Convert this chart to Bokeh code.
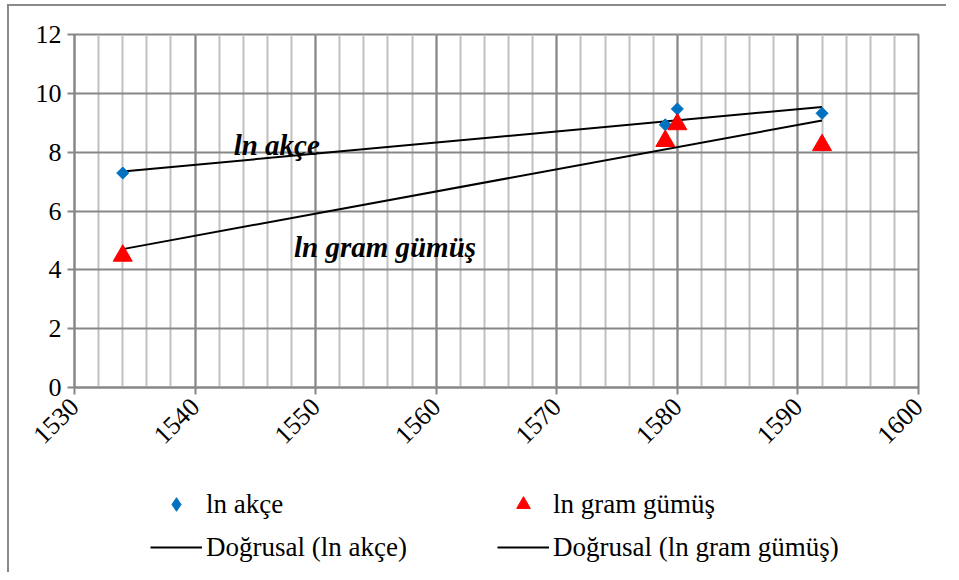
import numpy as np
from bokeh.plotting import figure
from bokeh.layouts import column
from bokeh.models import (Legend, LegendItem, Label, SingleIntervalTicker,
                          FixedTicker, ColumnDataSource, Range1d)
from bokeh.embed import file_html
from bokeh.resources import INLINE

# ---- data ----
years = [1534, 1579, 1580, 1592]
ln_akce = [7.29, 8.93, 9.47, 9.32]
ln_gram = [4.48, 8.38, 8.95, 8.24]
series_names = ["ln akçe", "ln gram gümüş"]
trend_names = ["Doğrusal (ln akçe)", "Doğrusal (ln gram gümüş)"]
annot_texts = ["ln akçe", "ln gram gümüş"]
x_ticks = [1530, 1540, 1550, 1560, 1570, 1580, 1590, 1600]
y_ticks = [0, 2, 4, 6, 8, 10, 12]

FONT = "Liberation Serif"
GRID_MAJOR = "#878787"
GRID_MINOR = "#c0c0c0"
BLUE = "#0070C0"
RED = "#FF0000"

p = figure(frame_width=844, frame_height=353, output_backend="svg",
           toolbar_location=None,
           x_range=Range1d(1530, 1600), y_range=Range1d(0, 12),
           min_border_left=65, min_border_right=28, min_border_top=28,
           min_border_bottom=90)
p.background_fill_color = "white"
p.border_fill_color = "white"
p.outline_line_color = GRID_MAJOR
p.outline_line_width = 2

# axes
p.xaxis.ticker = SingleIntervalTicker(interval=10, num_minor_ticks=5)
p.yaxis.ticker = FixedTicker(ticks=y_ticks)
p.axis.axis_line_color = GRID_MAJOR
p.axis.axis_line_width = 2
p.axis.major_tick_line_color = GRID_MAJOR
p.axis.major_tick_line_width = 2
p.axis.major_tick_out = 7
p.axis.major_tick_in = 0
p.axis.minor_tick_line_color = None
p.axis.major_label_text_font = FONT
p.axis.major_label_text_font_size = "26px"
p.axis.major_label_text_color = "black"
p.xaxis.major_label_orientation = np.pi / 4
p.xaxis.major_label_standoff = 8
p.yaxis.major_label_standoff = 6

# grids
p.xgrid.grid_line_color = GRID_MAJOR
p.xgrid.grid_line_width = 2
p.xgrid.minor_grid_line_color = GRID_MINOR
p.xgrid.minor_grid_line_width = 2
p.ygrid.grid_line_color = GRID_MAJOR
p.ygrid.grid_line_width = 2
p.ygrid.ticker = FixedTicker(ticks=y_ticks)

# trend lines (least-squares fit of each series)
xs = np.array(years, dtype=float)
x_end = [xs.min(), xs.max()]
for ys in (ln_akce, ln_gram):
    k, b = np.polyfit(xs, np.array(ys), 1)
    src = ColumnDataSource(dict(x=x_end, y=[k * x_end[0] + b, k * x_end[1] + b]))
    p.line("x", "y", source=src, line_color="black", line_width=2)

src = ColumnDataSource(dict(x=years, a=ln_akce, g=ln_gram))
p.scatter("x", "a", source=src, marker="square", angle=np.pi / 4, size=8.5,
          fill_color=BLUE, line_color=BLUE)
p.scatter("x", "g", source=src, marker="triangle", size=19,
          fill_color=RED, line_color=RED)

# in-plot annotations
p.add_layout(Label(x=1543.2, y=8.23, text=annot_texts[0], text_font=FONT,
                   text_font_style="bold italic", text_font_size="29px",
                   text_color="black", text_baseline="alphabetic"))
p.add_layout(Label(x=1548.2, y=4.76, text=annot_texts[1], text_font=FONT,
                   text_font_style="bold italic", text_font_size="29px",
                   text_color="black", text_baseline="alphabetic"))

# ---- legend strip (below the chart) ----
lg = figure(width=937, height=95, output_backend="svg", toolbar_location=None,
            x_axis_type=None, y_axis_type=None,
            x_range=Range1d(0, 1), y_range=Range1d(0, 1),
            min_border_left=0, min_border_right=0, min_border_top=0,
            min_border_bottom=0)
lg.outline_line_color = None
lg.background_fill_color = "white"
lg.border_fill_color = "white"
lg.grid.visible = False
empty = ColumnDataSource(dict(x=[np.nan], y=[np.nan]))
leg_akce = lg.scatter("x", "y", source=empty, marker="diamond", size=12,
                      fill_color=BLUE, line_color=BLUE)
leg_gram = lg.scatter("x", "y", source=empty, marker="triangle", size=12,
                      fill_color=RED, line_color=RED)
leg_t1 = lg.line("x", "y", source=empty, line_color="black", line_width=2)
leg_t2 = lg.line("x", "y", source=empty, line_color="black", line_width=2)

legend = Legend(items=[
    LegendItem(label=series_names[0], renderers=[leg_akce]),
    LegendItem(label=series_names[1], renderers=[leg_gram]),
    LegendItem(label=trend_names[0], renderers=[leg_t1]),
    LegendItem(label=trend_names[1], renderers=[leg_t2]),
], orientation="horizontal", ncols=2)
legend.location = (76, 8)
legend.margin = 0
legend.padding = 0
legend.border_line_color = None
legend.background_fill_alpha = 0
legend.label_text_font = FONT
legend.label_text_font_size = "27px"
legend.label_text_color = "black"
legend.glyph_width = 52
legend.glyph_height = 34
legend.label_height = 34
legend.label_standoff = 4
legend.spacing = 9
legend.label_width = 282
lg.add_layout(legend, "center")

layout = column(p, lg, spacing=0)
layout.styles = {"border-left": "2px solid #8a8a8a", "border-top": "2px solid #8a8a8a",
                 "margin-left": "7px", "margin-top": "4px"}

open("out.html", "w").write(file_html(layout, INLINE))
